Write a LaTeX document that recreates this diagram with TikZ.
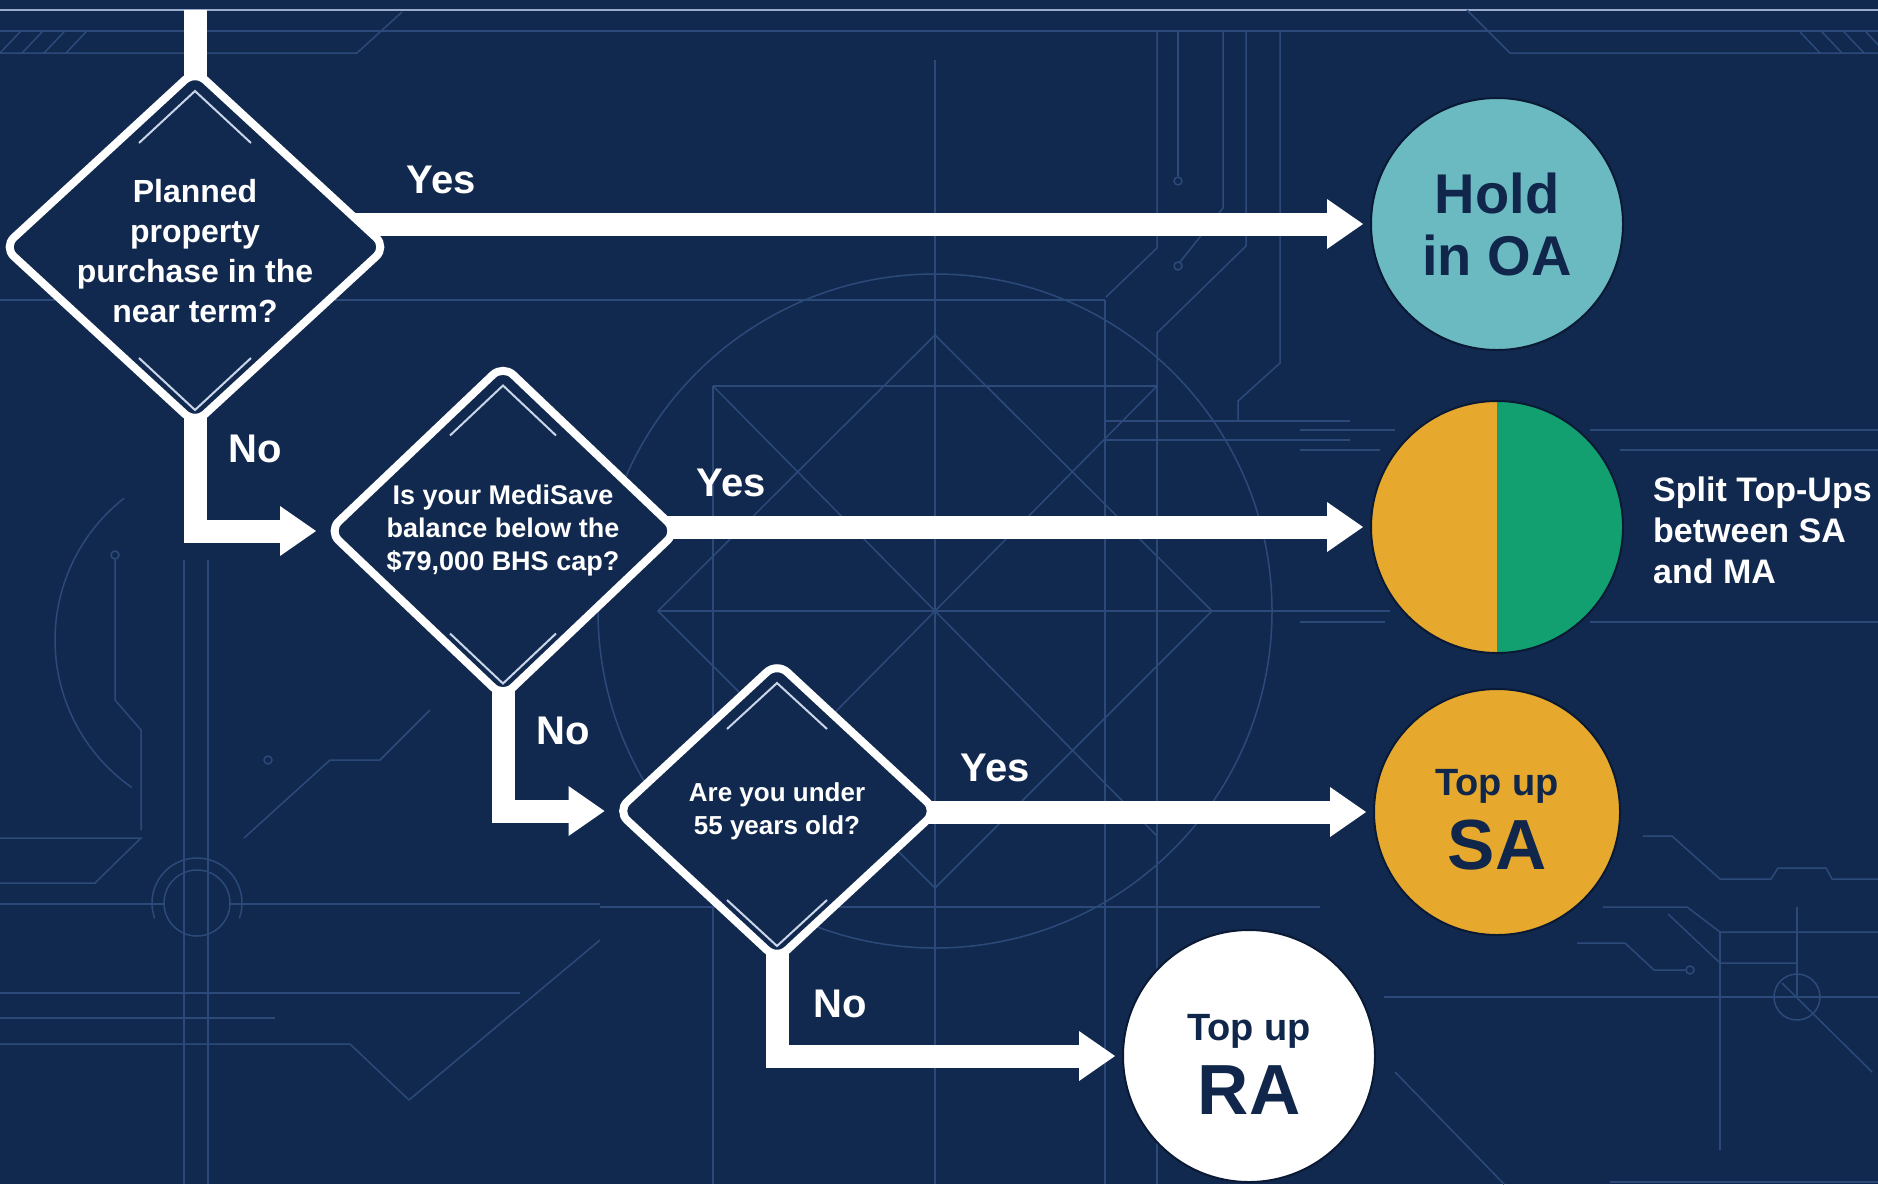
\documentclass[tikz,border=0pt]{standalone}
\usepackage{fontspec}
\setmainfont{Liberation Sans}
\usetikzlibrary{shapes.geometric,arrows.meta,calc}

\definecolor{bgnavy}{HTML}{12294F}
\definecolor{gridline}{HTML}{2B4A7A}
\definecolor{ruleline}{HTML}{9AABCB}
\definecolor{chevline}{HTML}{C9D5E8}
\definecolor{oateal}{HTML}{6BBAC1}
\definecolor{saamber}{HTML}{E6A82D}
\definecolor{mamint}{HTML}{12A070}
\definecolor{inkblue}{HTML}{10264A}
\definecolor{rimdark}{HTML}{0A1A35}

\pgfdeclarelayer{back}
\pgfdeclarelayer{links}
\pgfsetlayers{back,links,main}

\newcommand\fs[2]{\fontsize{#1}{#2}\selectfont}

% thin inner chevrons near the top and bottom corners of a decision diamond
% #1 node, #2 half spread, #3 drop, #4 top inset, #5 bottom inset
\newcommand\chevrons[5]{%
  \draw[chev] ($(#1.north)+(-#2,#4+#3)$) -- ($(#1.north)+(0,#4)$) -- ($(#1.north)+(#2,#4+#3)$);
  \draw[chev] ($(#1.south)+(-#2,-#5-#3)$) -- ($(#1.south)+(0,-#5)$) -- ($(#1.south)+(#2,-#5-#3)$);
}

\tikzset{
  grid/.style={draw=gridline, line width=1.5pt},
  decision/.style={diamond, draw=white, line width=8pt, fill=bgnavy,
    rounded corners=14pt, inner sep=0pt},
  chev/.style={draw=chevline, line width=2pt},
  qtext/.style={text=white, align=center, inner sep=0pt},
  tag/.style={text=white, inner sep=0pt, font=\bfseries\fs{40}{44}},
  stem/.style={draw=white, line width=23pt},
  link/.style={draw=white, line width=23pt, line join=miter, shorten >=7pt,
    -{Triangle[length=36pt,width=50pt,line width=0pt]}},
  result/.style={circle, draw=rimdark, line width=2pt, inner sep=0pt,
    minimum size=252pt},
  rtext/.style={text=inkblue, align=center, inner sep=0pt},
}

\begin{document}
\begin{tikzpicture}[x=1pt, y=-1pt]
\useasboundingbox (0,0) rectangle (1878,1184);

% ---------- blueprint backdrop ----------
\begin{pgfonlayer}{back}
  \fill[bgnavy] (0,0) rectangle (1878,1184);
  % header rules
  \draw[draw=ruleline, line width=2.5pt] (0,10) -- (1878,10);
  \draw[grid] (0,31) -- (1878,31);
  \draw[grid] (0,53) -- (357,53) -- (402,12);
  \draw[grid] (1467,10) -- (1510,53) -- (1878,53);
  \foreach \x in {0,22,44,66} \draw[grid] (\x,53) -- (\x+20,32);
  \foreach \x in {1800,1822,1844,1866} \draw[grid] (\x,32) -- (\x+20,53);
  % central construction
  \draw[grid] (935,611) circle (337);
  \draw[grid] (935,60) -- (935,1184);
  \draw[grid] (935,335) -- (1212,611) -- (935,888) -- (658,611) -- cycle;
  \draw[grid] (0,300) -- (1105,300);
  \draw[grid] (713,386) -- (1157,386);
  \draw[grid] (713,386) -- (713,1184);
  \draw[grid] (1105,300) -- (1105,1184);
  \draw[grid] (1157,386) -- (1157,1184);
  \draw[grid] (658,611) -- (1390,611);
  \draw[grid] (713,386) -- (1157,836);
  \draw[grid] (1157,386) -- (713,836);
  \draw[grid] (600,907) -- (1320,907);
  % upper traces
  \draw[grid] (1157,32) -- (1157,248) -- (1106,297);
  \draw[grid] (1178,32) -- (1178,176);
  \draw[grid] (1178,181) circle (4);
  \draw[grid] (1223,32) -- (1223,208) -- (1180,262);
  \draw[grid] (1178,266) circle (4);
  \draw[grid] (1246,32) -- (1246,246) -- (1157,333) -- (1157,423);
  \draw[grid] (1280,32) -- (1280,363) -- (1238,401) -- (1238,421);
  \draw[grid] (1106,421) -- (1350,421);
  \draw[grid] (1106,440) -- (1350,440);
  % right side rules
  \draw[grid] (1590,430) -- (1878,430);
  \draw[grid] (1620,450) -- (1878,450);
  \draw[grid] (1300,430) -- (1395,430);
  \draw[grid] (1300,450) -- (1380,450);
  \draw[grid] (1590,622) -- (1878,622);
  \draw[grid] (1300,622) -- (1385,622);
  % lower right circuit
  \draw[grid] (1643,836) -- (1672,836) -- (1720,879) -- (1771,879) -- (1778,868)
              -- (1826,868) -- (1832,879) -- (1878,879);
  \draw[grid] (1603,907) -- (1687,907) -- (1720,932) -- (1878,932);
  \draw[grid] (1720,932) -- (1720,1150);
  \draw[grid] (1797,907) -- (1797,997);
  \draw[grid] (1797,997) circle (23);
  \draw[grid] (1384,997) -- (1878,997);
  \draw[grid] (1782,983) -- (1872,1072);
  \draw[grid] (1577,943) -- (1625,943) -- (1654,970) -- (1686,970);
  \draw[grid] (1690,970) circle (4);
  \draw[grid] (1668,914) -- (1720,963) -- (1797,963);
  \draw[grid] (1395,1072) -- (1504,1184);
  \draw[grid] (1610,1182) -- (1878,1182);
  % left circuit
  \draw[grid] (235,640) ++(125:180) arc[start angle=125, end angle=232, radius=180];
  \draw[grid] (184,560) -- (184,1184);
  \draw[grid] (208,560) -- (208,1184);
  \draw[grid] (197,903) circle (33);
  \draw[grid] (197,903) ++(20:45) arc[start angle=20, end angle=-200, radius=45];
  \draw[grid] (0,883) -- (95,883) -- (141,838) -- (0,838);
  \draw[grid] (0,904) -- (164,904);
  \draw[grid] (230,904) -- (600,904);
  \draw[grid] (0,993) -- (520,993);
  \draw[grid] (0,1018) -- (275,1018);
  \draw[grid] (0,1044) -- (350,1044) -- (409,1100);
  \draw[grid] (409,1100) -- (600,940);
  \draw[grid] (115,560) -- (115,700) -- (141,730) -- (141,830);
  \draw[grid] (115,555) circle (4);
  \draw[grid] (244,838) -- (330,760) -- (380,760) -- (430,710);
  \draw[grid] (268,760) circle (4);
\end{pgfonlayer}

% ---------- decisions ----------
\node[decision, minimum width=386pt, minimum height=356pt] (d1) at (195,247) {};
\node[decision, minimum width=352pt, minimum height=335pt] (d2) at (503,531) {};
\node[decision, minimum width=323pt, minimum height=300pt] (d3) at (777,811) {};
\chevrons{d1}{56}{52}{26}{19}
\chevrons{d2}{53}{50}{26}{19}
\chevrons{d3}{50}{46}{26}{19}

\node[qtext, font=\bfseries\fs{32}{40}] (q1) at (195,251)
  {Planned\\property\\purchase in the\\near term?};
\node[qtext, font=\bfseries\fs{27}{33}] (q2) at (503,531)
  {Is your MediSave\\balance below the\\\$79,000 BHS cap?};
\node[qtext, font=\bfseries\fs{26}{33}] (q3) at (777,811)
  {Are you under\\55 years old?};

% ---------- outcomes ----------
\node[result, fill=oateal] (hold) at (1497,224) {};
\node[result, fill=saamber,
  path picture={\fill[mamint] (path picture bounding box.north)
    rectangle (path picture bounding box.south east);}] (split) at (1497,527) {};
\node[result, fill=saamber, minimum size=246pt] (sa) at (1497,812) {};
\node[result, fill=white] (ra) at (1249,1056) {};

\node[rtext, font=\bfseries\fs{56}{62}] (holdtxt) at (hold.center) {Hold\\in OA};
\node[rtext, font=\bfseries\fs{38}{74}] (satxt) at ($(sa.center)+(0,8)$)
  {Top up\\{\fs{71}{74}SA}};
\node[rtext, font=\bfseries\fs{38}{74}] (ratxt) at ($(ra.center)+(0,8)$)
  {Top up\\{\fs{71}{74}RA}};
\node[text=white, font=\bfseries\fs{34}{41}, align=left, anchor=west,
  inner sep=0pt] (splittxt) at (1653,530) {Split Top-Ups\\between SA\\and MA};

% ---------- branch labels ----------
\node[tag] (yes1) at (441,180) {Yes};
\node[tag] (no1)  at (255,449) {No};
\node[tag] (yes2) at (731,483) {Yes};
\node[tag] (no2)  at (563,731) {No};
\node[tag] (yes3) at (995,768) {Yes};
\node[tag] (no3)  at (840,1004) {No};

% ---------- connectors ----------
\begin{pgfonlayer}{links}
  \coordinate (entry) at (195,10);
  \draw[stem] (entry) -- (d1.center);
  \draw[link] (d1.center |- hold.west) -- (hold.west);
  \draw[link] (d1.center) |- (d2.west);
  \draw[link] (d2.center |- split.west) -- (split.west);
  \draw[link] (d2.center) |- (d3.west);
  \draw[link] (d3.center |- sa.west) -- (sa.west);
  \draw[link] (d3.center) |- (ra.west);
\end{pgfonlayer}
\end{tikzpicture}
\end{document}
